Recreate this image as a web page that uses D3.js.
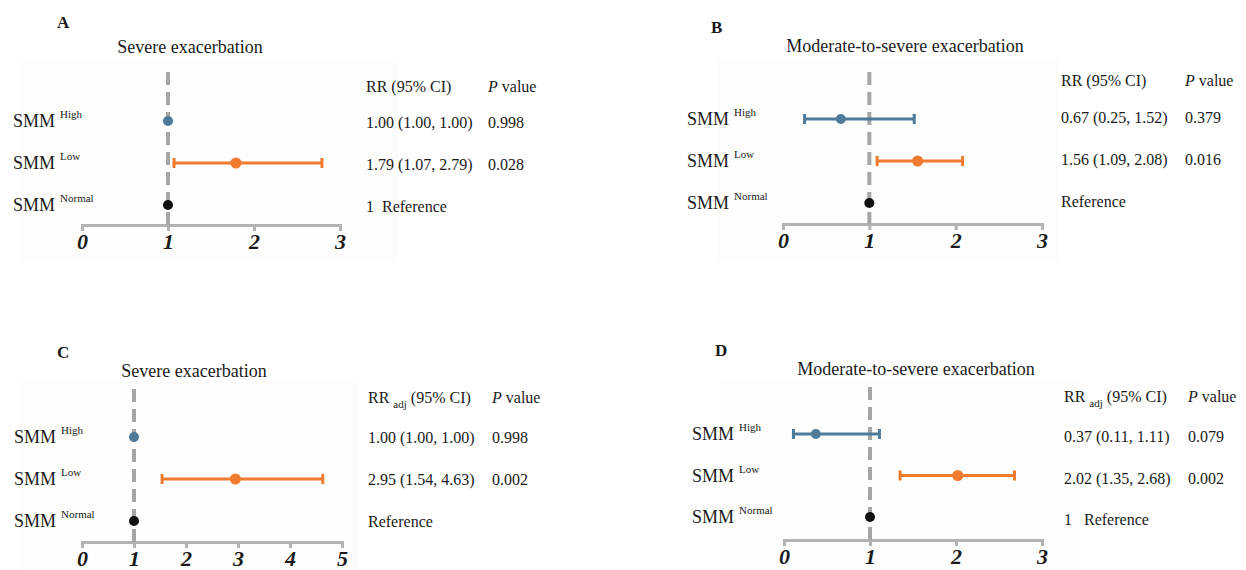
<!DOCTYPE html>
<html>
<head>
<meta charset="utf-8">
<script src="https://cdn.jsdelivr.net/npm/d3@7"></script>
<style>
  html, body { margin: 0; padding: 0; background: #ffffff; }
  svg text { font-family: "Liberation Serif", "Times New Roman", serif; fill: #1a1a1a; white-space: pre; }
</style>
</head>
<body>
<div id="chart"></div>
<script>
// rows shared by all four panels
const groups = ["High", "Low", "Normal"];

// A: severe exacerbation, crude RR
const rrA = [1.00, 1.79, 1];
const loA = [1.00, 1.07, 1];
const hiA = [1.00, 2.79, 1];
const ciA = ["1.00 (1.00, 1.00)", "1.79 (1.07, 2.79)", "1  Reference"];
const pA = ["0.998", "0.028", ""];

// B: moderate-to-severe exacerbation, crude RR
const rrB = [0.67, 1.56, 1];
const loB = [0.25, 1.09, 1];
const hiB = [1.52, 2.08, 1];
const ciB = ["0.67 (0.25, 1.52)", "1.56 (1.09, 2.08)", "Reference"];
const pB = ["0.379", "0.016", ""];

// C: severe exacerbation, adjusted RR
const rrC = [1.00, 2.95, 1];
const loC = [1.00, 1.54, 1];
const hiC = [1.00, 4.63, 1];
const ciC = ["1.00 (1.00, 1.00)", "2.95 (1.54, 4.63)", "Reference"];
const pC = ["0.998", "0.002", ""];

// D: moderate-to-severe exacerbation, adjusted RR
const rrD = [0.37, 2.02, 1];
const loD = [0.11, 1.35, 1];
const hiD = [1.11, 2.68, 1];
const ciD = ["0.37 (0.11, 1.11)", "2.02 (1.35, 2.68)", "1   Reference"];
const pD = ["0.079", "0.002", ""];

const titles = ["Severe exacerbation", "Moderate-to-severe exacerbation",
                "Severe exacerbation", "Moderate-to-severe exacerbation"];
const letters = ["A", "B", "C", "D"];
const xMax = [3, 3, 5, 3];
const adjusted = [false, false, true, true];

const colors = { High: "#4e7b9b", Low: "#f07b2f", Normal: "#111111" };

// layout of each panel (pixel positions only)
const layout = [
  { x0: 82, x1: 340, axisY: 225, rowTop: 121, rowBot: 205, dashTop: 72,
    titleX: 190, titleY: 53, letX: 57, letY: 28, labX: 13, ciX: 366, pX: 488,
    headY: 92, valDy: 7, bg: [20, 62, 378, 200] },
  { x0: 783, x1: 1042, axisY: 224, rowTop: 119, rowBot: 203, dashTop: 72,
    titleX: 905, titleY: 52, letX: 711, letY: 33, labX: 687, ciX: 1061, pX: 1185,
    headY: 86, valDy: 4, bg: [718, 58, 340, 204] },
  { x0: 82, x1: 342, axisY: 542, rowTop: 437, rowBot: 521, dashTop: 389,
    titleX: 194, titleY: 377, letX: 57, letY: 358, labX: 14, ciX: 368, pX: 492,
    headY: 403, valDy: 6, bg: [20, 382, 338, 188] },
  { x0: 784, x1: 1042, axisY: 540, rowTop: 434, rowBot: 517, dashTop: 387,
    titleX: 916, titleY: 375, letX: 715, letY: 356, labX: 692, ciX: 1064, pX: 1188,
    headY: 402, valDy: 8, bg: [720, 380, 360, 190] }
];

const panelData = [
  { rr: rrA, lo: loA, hi: hiA, ci: ciA, p: pA },
  { rr: rrB, lo: loB, hi: hiB, ci: ciB, p: pB },
  { rr: rrC, lo: loC, hi: hiC, ci: ciC, p: pC },
  { rr: rrD, lo: loD, hi: hiD, ci: ciD, p: pD }
];

const width = 1246;
const height = 570;

const svg = d3.select("#chart")
  .append("svg")
  .attr("width", width)
  .attr("height", height);

layout.forEach((L, k) => {
  const d = panelData[k];
  const g = svg.append("g");

  // faint plot background
  g.append("rect")
    .attr("x", L.bg[0])
    .attr("y", L.bg[1])
    .attr("width", L.bg[2])
    .attr("height", L.bg[3])
    .attr("fill", "#fdfdfb");

  const x = d3.scaleLinear().domain([0, xMax[k]]).range([L.x0, L.x1]);
  const y = d3.scalePoint().domain(groups).range([L.rowTop, L.rowBot]);

  // panel letter + title
  g.append("text")
    .attr("x", L.letX)
    .attr("y", L.letY)
    .attr("font-size", "17px")
    .attr("font-weight", "700")
    .text(letters[k]);

  g.append("text")
    .attr("x", L.titleX)
    .attr("y", L.titleY)
    .attr("text-anchor", "middle")
    .attr("font-size", "18px")
    .text(titles[k]);

  // x axis
  const axis = g.append("g")
    .attr("transform", `translate(0,${L.axisY})`)
    .call(d3.axisBottom(x).ticks(xMax[k]).tickSizeOuter(0).tickSize(6).tickPadding(2));

  axis.select(".domain")
    .attr("stroke", "#b3b3b3")
    .attr("stroke-width", 3);
  axis.selectAll(".tick line")
    .attr("stroke", "#b3b3b3")
    .attr("stroke-width", 3);
  axis.selectAll(".tick text")
    .attr("font-family", "Liberation Serif, serif")
    .attr("font-size", "22px")
    .attr("font-weight", "700")
    .attr("font-style", "italic")
    .attr("fill", "#1a1a1a");

  // reference line at RR = 1
  g.append("line")
    .attr("x1", x(1))
    .attr("x2", x(1))
    .attr("y1", L.dashTop)
    .attr("y2", L.axisY)
    .attr("stroke", "#a6a6a6")
    .attr("stroke-width", 4)
    .attr("stroke-dasharray", "13,7");

  groups.forEach((grp, i) => {
    const cy = y(grp);
    const col = colors[grp];

    // CI bar with caps
    if (d.hi[i] > d.lo[i]) {
      g.append("line")
        .attr("x1", x(d.lo[i]))
        .attr("x2", x(d.hi[i]))
        .attr("y1", cy)
        .attr("y2", cy)
        .attr("stroke", col)
        .attr("stroke-width", 3);
      [d.lo[i], d.hi[i]].forEach(v => {
        g.append("line")
          .attr("x1", x(v))
          .attr("x2", x(v))
          .attr("y1", cy - 5)
          .attr("y2", cy + 5)
          .attr("stroke", col)
          .attr("stroke-width", 3);
      });
    }

    g.append("circle")
      .attr("cx", x(d.rr[i]))
      .attr("cy", cy)
      .attr("r", grp === "Low" ? 5.5 : 5)
      .attr("fill", col);

    // row label: SMM with superscript
    const lab = g.append("text")
      .attr("x", L.labX)
      .attr("y", cy + 6)
      .attr("font-size", "18px");
    lab.append("tspan").text("SMM");
    lab.append("tspan")
      .attr("dx", 5)
      .attr("dy", -9)
      .attr("font-size", "11px")
      .text(grp);

    // estimate text + p value
    g.append("text")
      .attr("x", L.ciX)
      .attr("y", cy + L.valDy)
      .attr("font-size", "16px")
      .text(d.ci[i]);

    g.append("text")
      .attr("x", L.pX)
      .attr("y", cy + L.valDy)
      .attr("font-size", "16px")
      .text(d.p[i]);
  });

  // column headers
  const head = g.append("text")
    .attr("x", L.ciX)
    .attr("y", L.headY)
    .attr("font-size", "16px");
  if (adjusted[k]) {
    head.append("tspan").text("RR ");
    head.append("tspan").attr("font-size", "11px").attr("dy", 5).text("adj");
    head.append("tspan").attr("dy", -5).text(" (95% CI)");
  } else {
    head.text("RR (95% CI)");
  }

  const ph = g.append("text")
    .attr("x", L.pX)
    .attr("y", L.headY)
    .attr("font-size", "16px");
  ph.append("tspan").attr("font-style", "italic").text("P");
  ph.append("tspan").text(" value");
});
</script>
</body>
</html>
